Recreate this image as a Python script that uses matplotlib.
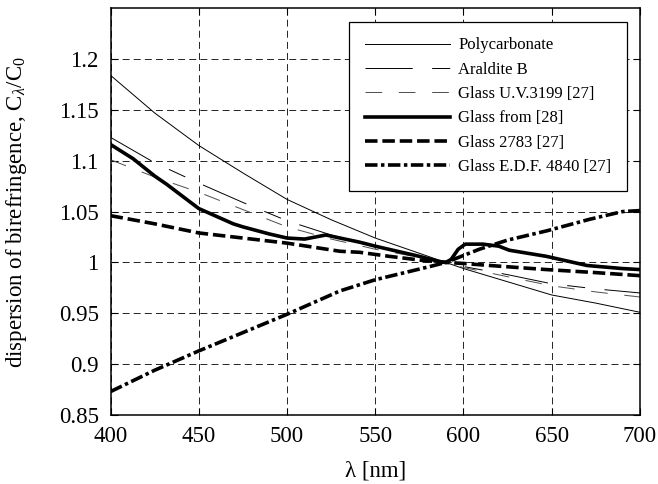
import numpy as np
import matplotlib
matplotlib.use("Agg")
import matplotlib.pyplot as plt
from matplotlib.ticker import FuncFormatter

plt.rcParams['font.family'] = ['Liberation Serif', 'DejaVu Serif']
plt.rcParams['mathtext.fontset'] = 'custom'
plt.rcParams['mathtext.rm'] = 'Liberation Serif'
plt.rcParams['mathtext.it'] = 'Liberation Serif:italic'
plt.rcParams['lines.scale_dashes'] = False

# data (wavelength in nm, dispersion C_lambda/C_0)
x_poly = [400, 425, 450, 475, 500, 525, 550, 575, 590, 600, 625, 650, 675, 700]
y_poly = [1.184, 1.147, 1.115, 1.088, 1.062, 1.042, 1.024, 1.009, 1.0, 0.994, 0.981, 0.968, 0.960, 0.951]

x_aral = [400, 425, 450, 475, 500, 525, 550, 575, 590, 600, 625, 650, 675, 700]
y_aral = [1.123, 1.098, 1.078, 1.059, 1.041, 1.027, 1.016, 1.006, 1.0, 0.996, 0.988, 0.979, 0.974, 0.970]

x_uv = [400, 425, 450, 475, 500, 525, 550, 575, 590, 600, 625, 650, 675, 700]
y_uv = [1.101, 1.084, 1.069, 1.052, 1.035, 1.023, 1.013, 1.005, 1.0, 0.995, 0.986, 0.977, 0.971, 0.966]

x_g28 = [400, 412.8, 425, 431.7, 450, 469.5, 475, 490, 500, 510, 522, 530, 541, 550,
         565, 575, 586, 590, 593, 597, 601, 611, 620, 626, 647, 670, 690, 700]
y_g28 = [1.116, 1.102, 1.085, 1.077, 1.053, 1.038, 1.035, 1.028, 1.024, 1.023, 1.027, 1.024, 1.020, 1.016,
         1.010, 1.006, 1.001, 1.0, 1.003, 1.013, 1.018, 1.018, 1.016, 1.012, 1.006, 0.997, 0.994, 0.993]

x_2783 = [400, 425, 450, 475, 500, 530, 541, 558, 577, 590, 600, 615, 647, 675, 700]
y_2783 = [1.046, 1.038, 1.029, 1.024, 1.019, 1.011, 1.010, 1.006, 1.002, 1.0, 0.999, 0.997, 0.993, 0.990, 0.987]

x_edf = [400, 425, 450, 475, 500, 530, 550, 581, 590, 609, 625, 647, 671.6, 690, 700]
y_edf = [0.873, 0.894, 0.913, 0.931, 0.949, 0.972, 0.983, 0.996, 1.0, 1.013, 1.022, 1.031, 1.0425, 1.050, 1.051]

fig = plt.figure(figsize=(6.58, 4.84), dpi=100)
ax = fig.add_axes([0.168, 0.1426, 0.8046, 0.8404])

ax.plot(x_poly, y_poly, color='k', lw=0.7, label='Polycarbonate')
ax.plot(x_aral, y_aral, color='k', lw=0.7, dashes=(34, 14, 13, 14), label='Araldite B')
ax.plot(x_uv, y_uv, color='0.3', lw=0.7, dashes=(12, 12), label='Glass U.V.3199 [27]')
ax.plot(x_g28, y_g28, color='k', lw=2.6, label='Glass from [28]')
ax.plot(x_2783, y_2783, color='k', lw=2.6, dashes=(9, 3.5), label='Glass 2783 [27]')
ax.plot(x_edf, y_edf, color='k', lw=2.6, dashes=(9, 2.5, 2.5, 2.5), label='Glass E.D.F. 4840 [27]')

ax.set_xlim(400, 700)
ax.set_ylim(0.85, 1.25)
ax.set_xticks(np.arange(400, 701, 50))
ax.set_yticks(np.arange(0.85, 1.201, 0.05))
ax.yaxis.set_major_formatter(FuncFormatter(lambda v, p: '%g' % round(v, 2)))
ax.grid(True, color='k', lw=0.6, dashes=(5, 3))
ax.tick_params(direction='in', length=5, width=0.8, top=True, right=True, labelsize=16.5)
ax.tick_params(axis='x', pad=7.8)
ax.tick_params(axis='y', pad=8.5)
for s in ax.spines.values():
    s.set_linewidth(1.1)

ax.set_xlabel('λ [nm]', fontsize=16.5, labelpad=10)
ax.set_ylabel(r'dispersion of birefringence, C$_{\lambda}$/C$_0$', fontsize=16.5)
ax.yaxis.set_label_coords(-0.154, 0.5)

leg = ax.legend(loc='upper right', bbox_to_anchor=(0.9755, 0.967), borderaxespad=0,
                fontsize=12, handlelength=5.1, handletextpad=0.5, labelspacing=0.5,
                borderpad=0.95, fancybox=False, framealpha=1, edgecolor='k')
leg.get_frame().set_linewidth(0.9)

fig.savefig('out.png', dpi=100)
